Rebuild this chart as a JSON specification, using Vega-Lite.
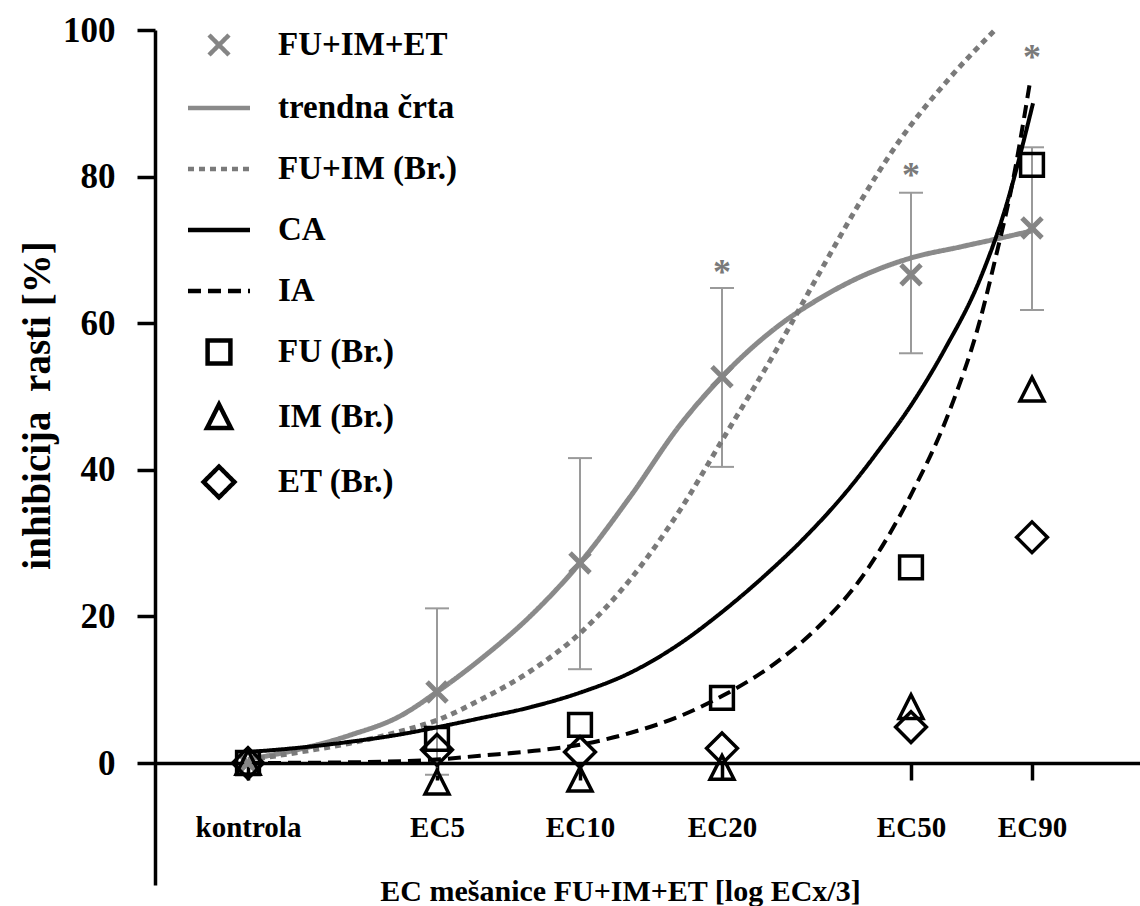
{
  "$schema": "https://vega.github.io/schema/vega-lite/v6.json",
  "width": 985,
  "height": 855,
  "autosize": {"type": "none"},
  "padding": {"left": 155, "top": 30, "right": 0, "bottom": 21},
  "background": "white",
  "config": {"view": {"stroke": null}, "font": "Liberation Serif", "axis": {"grid": false}},
  "datasets": {
    "markers": [
      {"cat": "kontrola", "x": 0.93, "series": "FU+IM+ET", "y": 0},
      {"cat": "EC5", "x": 2.82, "series": "FU+IM+ET", "y": 9.7},
      {"cat": "EC10", "x": 4.25, "series": "FU+IM+ET", "y": 27.3},
      {"cat": "EC20", "x": 5.67, "series": "FU+IM+ET", "y": 52.7},
      {"cat": "EC50", "x": 7.56, "series": "FU+IM+ET", "y": 66.6},
      {"cat": "EC90", "x": 8.77, "series": "FU+IM+ET", "y": 73.0},
      {"cat": "kontrola", "x": 0.93, "series": "FU (Br.)", "y": 0},
      {"cat": "EC5", "x": 2.82, "series": "FU (Br.)", "y": 3.3},
      {"cat": "EC10", "x": 4.25, "series": "FU (Br.)", "y": 5.2},
      {"cat": "EC20", "x": 5.67, "series": "FU (Br.)", "y": 8.9},
      {"cat": "EC50", "x": 7.56, "series": "FU (Br.)", "y": 26.7},
      {"cat": "EC90", "x": 8.77, "series": "FU (Br.)", "y": 81.6},
      {"cat": "kontrola", "x": 0.93, "series": "IM (Br.)", "y": 0},
      {"cat": "EC5", "x": 2.82, "series": "IM (Br.)", "y": -2.7},
      {"cat": "EC10", "x": 4.25, "series": "IM (Br.)", "y": -2.3},
      {"cat": "EC20", "x": 5.67, "series": "IM (Br.)", "y": -0.7},
      {"cat": "EC50", "x": 7.56, "series": "IM (Br.)", "y": 7.6},
      {"cat": "EC90", "x": 8.77, "series": "IM (Br.)", "y": 50.9},
      {"cat": "kontrola", "x": 0.93, "series": "ET (Br.)", "y": 0},
      {"cat": "EC5", "x": 2.82, "series": "ET (Br.)", "y": 1.8},
      {"cat": "EC10", "x": 4.25, "series": "ET (Br.)", "y": 1.5},
      {"cat": "EC20", "x": 5.67, "series": "ET (Br.)", "y": 2.0},
      {"cat": "EC50", "x": 7.56, "series": "ET (Br.)", "y": 4.9},
      {"cat": "EC90", "x": 8.77, "series": "ET (Br.)", "y": 30.8}
    ],
    "errors": [
      {"cat": "EC5", "x": 2.82, "lo": -1.6, "hi": 21.1},
      {"cat": "EC10", "x": 4.25, "lo": 12.8, "hi": 41.6},
      {"cat": "EC20", "x": 5.67, "lo": 40.4, "hi": 64.8},
      {"cat": "EC50", "x": 7.56, "lo": 55.9, "hi": 77.8},
      {"cat": "EC90", "x": 8.77, "lo": 61.8, "hi": 84.0}
    ],
    "stars": [
      {"cat": "EC20", "x": 5.67, "y": 67.7},
      {"cat": "EC50", "x": 7.56, "y": 80.9},
      {"cat": "EC90", "x": 8.77, "y": 97.0}
    ],
    "curves": [
      {"series": "trendna črta", "x": 0.93, "y": 0.5},
      {"series": "trendna črta", "x": 1.45, "y": 1.9},
      {"series": "trendna črta", "x": 1.95, "y": 3.8},
      {"series": "trendna črta", "x": 2.45, "y": 6.4},
      {"series": "trendna črta", "x": 2.82, "y": 9.7},
      {"series": "trendna črta", "x": 3.25, "y": 14.1},
      {"series": "trendna črta", "x": 3.75, "y": 20.0},
      {"series": "trendna črta", "x": 4.25, "y": 27.3},
      {"series": "trendna črta", "x": 4.75, "y": 36.3},
      {"series": "trendna črta", "x": 5.25, "y": 46.1},
      {"series": "trendna črta", "x": 5.67, "y": 52.7},
      {"series": "trendna črta", "x": 6.25, "y": 59.8},
      {"series": "trendna črta", "x": 6.65, "y": 63.4},
      {"series": "trendna črta", "x": 7.05, "y": 66.3},
      {"series": "trendna črta", "x": 7.56, "y": 68.9},
      {"series": "trendna črta", "x": 8.05, "y": 70.4},
      {"series": "trendna črta", "x": 8.45, "y": 71.6},
      {"series": "trendna črta", "x": 8.77, "y": 72.6},
      {"series": "FU+IM (Br.)", "x": 0.93, "y": 0.4},
      {"series": "FU+IM (Br.)", "x": 1.45, "y": 1.5},
      {"series": "FU+IM (Br.)", "x": 1.95, "y": 2.7},
      {"series": "FU+IM (Br.)", "x": 2.45, "y": 4.3},
      {"series": "FU+IM (Br.)", "x": 2.83, "y": 5.9},
      {"series": "FU+IM (Br.)", "x": 3.25, "y": 8.6},
      {"series": "FU+IM (Br.)", "x": 3.75, "y": 12.5},
      {"series": "FU+IM (Br.)", "x": 4.25, "y": 17.7},
      {"series": "FU+IM (Br.)", "x": 4.75, "y": 25.0},
      {"series": "FU+IM (Br.)", "x": 5.25, "y": 34.5},
      {"series": "FU+IM (Br.)", "x": 5.67, "y": 44.0},
      {"series": "FU+IM (Br.)", "x": 6.22, "y": 56.5},
      {"series": "FU+IM (Br.)", "x": 6.65, "y": 67.0},
      {"series": "FU+IM (Br.)", "x": 7.05, "y": 76.5},
      {"series": "FU+IM (Br.)", "x": 7.45, "y": 85.0},
      {"series": "FU+IM (Br.)", "x": 7.95, "y": 93.5},
      {"series": "FU+IM (Br.)", "x": 8.4, "y": 100.0},
      {"series": "CA", "x": 0.93, "y": 1.5},
      {"series": "CA", "x": 1.45, "y": 2.1},
      {"series": "CA", "x": 1.95, "y": 2.9},
      {"series": "CA", "x": 2.45, "y": 3.9},
      {"series": "CA", "x": 2.83, "y": 4.9},
      {"series": "CA", "x": 3.25, "y": 6.1},
      {"series": "CA", "x": 3.75, "y": 7.6},
      {"series": "CA", "x": 4.25, "y": 9.6},
      {"series": "CA", "x": 4.75, "y": 12.3},
      {"series": "CA", "x": 5.25, "y": 16.3},
      {"series": "CA", "x": 5.67, "y": 20.6},
      {"series": "CA", "x": 6.1, "y": 25.6},
      {"series": "CA", "x": 6.5, "y": 30.8},
      {"series": "CA", "x": 6.95, "y": 37.6},
      {"series": "CA", "x": 7.25, "y": 42.9},
      {"series": "CA", "x": 7.56, "y": 48.8},
      {"series": "CA", "x": 7.9, "y": 56.5},
      {"series": "CA", "x": 8.25, "y": 66.0},
      {"series": "CA", "x": 8.5, "y": 75.5},
      {"series": "CA", "x": 8.78, "y": 90.0},
      {"series": "\u00a0IA", "x": 0.93, "y": 0.0},
      {"series": "\u00a0IA", "x": 1.95, "y": 0.1},
      {"series": "\u00a0IA", "x": 2.85, "y": 0.5},
      {"series": "\u00a0IA", "x": 3.25, "y": 1.0},
      {"series": "\u00a0IA", "x": 3.75, "y": 1.6},
      {"series": "\u00a0IA", "x": 4.25, "y": 2.5},
      {"series": "\u00a0IA", "x": 4.75, "y": 4.1},
      {"series": "\u00a0IA", "x": 5.25, "y": 6.4},
      {"series": "\u00a0IA", "x": 5.68, "y": 9.2},
      {"series": "\u00a0IA", "x": 6.25, "y": 14.1},
      {"series": "\u00a0IA", "x": 6.65, "y": 18.8},
      {"series": "\u00a0IA", "x": 7.05, "y": 25.0},
      {"series": "\u00a0IA", "x": 7.3, "y": 30.2},
      {"series": "\u00a0IA", "x": 7.56, "y": 36.6},
      {"series": "\u00a0IA", "x": 7.95, "y": 48.2},
      {"series": "\u00a0IA", "x": 8.25, "y": 60.4},
      {"series": "\u00a0IA", "x": 8.4, "y": 68.6},
      {"series": "\u00a0IA", "x": 8.57, "y": 78.8},
      {"series": "\u00a0IA", "x": 8.75, "y": 92.9}
    ]
  },
  "layer": [
    {
      "data": {"name": "errors"},
      "mark": {"type": "rule", "color": "#9a9a9a", "strokeWidth": 2},
      "encoding": {
        "x": {
          "field": "x", "type": "quantitative",
          "scale": {"domain": [0, 9.85], "nice": false, "zero": false},
          "axis": {
            "values": [0.93, 2.82, 4.25, 5.67, 7.56, 8.77],
            "labelExpr": "datum.value < 2 ? 'kontrola' : datum.value < 3.5 ? 'EC5' : datum.value < 5 ? 'EC10' : datum.value < 6.5 ? 'EC20' : datum.value < 8 ? 'EC50' : 'EC90'",
            "offset": -122,
            "domainColor": "black", "domainWidth": 3.5,
            "tickColor": "black", "tickWidth": 3.5, "tickSize": 17,
            "labelFont": "Liberation Serif", "labelFontWeight": "bold", "labelFontSize": 29, "labelColor": "black",
            "labelPadding": 33, "labelFlush": false, "labelOverlap": false,
            "title": "EC mešanice FU+IM+ET [log ECx/3]",
            "titleFont": "Liberation Serif", "titleFontWeight": "bold", "titleFontSize": 30, "titleColor": "black",
            "titleX": 465, "titleY": 137, "titleBaseline": "alphabetic", "titleAlign": "center",
            "grid": false
          }
        },
        "y": {
          "field": "lo", "type": "quantitative",
          "scale": {"domain": [-16.64, 100], "nice": false, "zero": false},
          "axis": {
            "values": [0, 20, 40, 60, 80, 100],
            "domainColor": "black", "domainWidth": 3.5,
            "tickColor": "black", "tickWidth": 3.5, "tickSize": 18,
            "labelFont": "Liberation Serif", "labelFontWeight": "bold", "labelFontSize": 35, "labelColor": "black",
            "labelPadding": 22,
            "title": "inhibicija\u00a0 rasti [%]",
            "titleFont": "Liberation Serif", "titleFontWeight": "bold", "titleFontSize": 39, "titleColor": "black",
            "titleX": -118, "titleY": 375, "titleAngle": -90, "titleAlign": "center", "titleBaseline": "middle",
            "grid": false
          }
        },
        "y2": {"field": "hi"}
      }
    },
    {
      "data": {"name": "errors"},
      "mark": {"type": "tick", "orient": "horizontal", "size": 24, "thickness": 2, "color": "#9a9a9a", "opacity": 1},
      "encoding": {
        "x": {"field": "x", "type": "quantitative"},
        "y": {"field": "lo", "type": "quantitative"}
      }
    },
    {
      "data": {"name": "errors"},
      "mark": {"type": "tick", "orient": "horizontal", "size": 24, "thickness": 2, "color": "#9a9a9a", "opacity": 1},
      "encoding": {
        "x": {"field": "x", "type": "quantitative"},
        "y": {"field": "hi", "type": "quantitative"}
      }
    },
    {
      "data": {"name": "curves"},
      "transform": [{"filter": "datum.series === 'trendna črta' || datum.series === 'FU+IM (Br.)'"}],
      "mark": {"type": "line", "interpolate": "monotone", "strokeWidth": 5},
      "encoding": {
        "x": {"field": "x", "type": "quantitative"},
        "y": {"field": "y", "type": "quantitative"},
        "color": {"field": "series", "type": "nominal",
          "scale": {"domain": ["FU+IM+ET", "trendna črta", "FU+IM (Br.)", "CA", "\u00a0IA", "FU (Br.)", "IM (Br.)", "ET (Br.)"],
                    "range": ["#858585", "#8a8a8a", "#7a7a7a", "#000000", "#000000", "#000000", "#000000", "#000000"]},
          "legend": {"title": null, "orient": "none", "legendX": 33, "legendY": -16, "symbolSize": 3249, "symbolStrokeWidth": 4.5,
            "labelFont": "Liberation Serif", "labelFontWeight": "bold", "labelFontSize": 33, "labelColor": "black",
            "labelOffset": 28, "rowPadding": 13, "padding": 0, "labelLimit": 500,
            "encode": {"symbols": {"update": {"fill": {"value": "transparent"}, "opacity": {"value": 1}}}}}},
        "strokeDash": {"field": "series", "type": "nominal",
          "scale": {"domain": ["FU+IM+ET", "trendna črta", "FU+IM (Br.)", "CA", "\u00a0IA", "FU (Br.)", "IM (Br.)", "ET (Br.)"],
                    "range": [[1, 0], [1, 0], [6, 5], [1, 0], [13, 7], [1, 0], [1, 0], [1, 0]]},
          "legend": {"title": null, "orient": "none", "legendX": 33, "legendY": -16, "symbolSize": 3249, "symbolStrokeWidth": 4.5,
            "labelFont": "Liberation Serif", "labelFontWeight": "bold", "labelFontSize": 33, "labelColor": "black",
            "labelOffset": 28, "rowPadding": 13, "padding": 0, "labelLimit": 500,
            "encode": {"symbols": {"update": {"fill": {"value": "transparent"}, "opacity": {"value": 1}}}}}}
      }
    },
    {
      "data": {"name": "curves"},
      "transform": [{"filter": "datum.series === 'CA' || datum.series === '\u00a0IA'"}],
      "mark": {"type": "line", "interpolate": "monotone", "strokeWidth": 4},
      "encoding": {
        "x": {"field": "x", "type": "quantitative"},
        "y": {"field": "y", "type": "quantitative"},
        "color": {"field": "series", "type": "nominal"},
        "strokeDash": {"field": "series", "type": "nominal"}
      }
    },
    {
      "data": {"name": "markers"},
      "transform": [{"filter": "datum.series === 'FU+IM+ET'"}],
      "mark": {"type": "point", "filled": false, "size": 3249, "strokeWidth": 5, "opacity": 1},
      "encoding": {
        "x": {"field": "x", "type": "quantitative"},
        "y": {"field": "y", "type": "quantitative"},
        "color": {"field": "series", "type": "nominal"},
        "shape": {"field": "series", "type": "nominal",
          "scale": {"domain": ["FU+IM+ET", "trendna črta", "FU+IM (Br.)", "CA", "\u00a0IA", "FU (Br.)", "IM (Br.)", "ET (Br.)"],
                    "range": ["M-0.35,-0.35L0.35,0.35M-0.35,0.35L0.35,-0.35", "M-1.088,0L1.088,0", "M-1.088,0L1.088,0", "M-1.088,0L1.088,0", "M-1.088,0L1.088,0", "M-0.4,-0.4L0.4,-0.4L0.4,0.4L-0.4,0.4Z", "M0,-0.44L0.42,0.39L-0.42,0.39Z", "M0,-0.54L0.54,0L0,0.54L-0.54,0Z"]},
          "legend": {"title": null, "orient": "none", "legendX": 33, "legendY": -16, "symbolSize": 3249, "symbolStrokeWidth": 4.5,
            "labelFont": "Liberation Serif", "labelFontWeight": "bold", "labelFontSize": 33, "labelColor": "black",
            "labelOffset": 28, "rowPadding": 13, "padding": 0, "labelLimit": 500,
            "encode": {"symbols": {"update": {"fill": {"value": "transparent"}, "opacity": {"value": 1}}}}}}
      }
    },
    {
      "data": {"name": "markers"},
      "transform": [{"filter": "datum.series !== 'FU+IM+ET'"}],
      "mark": {"type": "point", "filled": false, "size": 3249, "strokeWidth": 3.5, "opacity": 1},
      "encoding": {
        "x": {"field": "x", "type": "quantitative"},
        "y": {"field": "y", "type": "quantitative"},
        "color": {"field": "series", "type": "nominal"},
        "shape": {"field": "series", "type": "nominal"}
      }
    },
    {
      "data": {"name": "stars"},
      "mark": {"type": "text", "text": "*", "font": "Liberation Serif", "fontWeight": "bold", "fontSize": 36, "color": "#7a7a7a", "baseline": "alphabetic", "align": "center", "dy": 17},
      "encoding": {
        "x": {"field": "x", "type": "quantitative"},
        "y": {"field": "y", "type": "quantitative"}
      }
    }
  ]
}
